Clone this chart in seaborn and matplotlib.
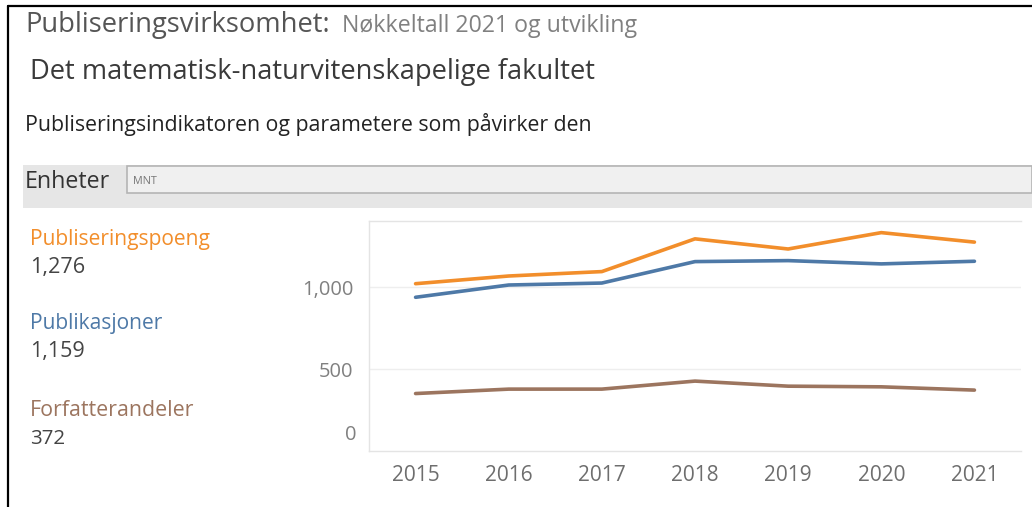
import matplotlib
matplotlib.use("Agg")
import matplotlib.pyplot as plt
from matplotlib.patches import Rectangle
import seaborn as sns
import pandas as pd

years = ["2015", "2016", "2017", "2018", "2019", "2020", "2021"]
poeng = [1022, 1069, 1096, 1296, 1234, 1334, 1276]
publikasjoner = [939, 1014, 1026, 1157, 1163, 1143, 1159]
forfatterandeler = [351, 378, 378, 427, 396, 392, 372]

series_names = ["Publiseringspoeng", "Publikasjoner", "Forfatterandeler"]
latest = ["1,276", "1,159", "372"]
colors = ["#f28e2b", "#4e79a7", "#9c755f"]
yticks = [0, 500, 1000]

df = pd.DataFrame({
    "year": years * 3,
    "value": poeng + publikasjoner + forfatterandeler,
    "serie": sum([[n] * len(years) for n in series_names], []),
})

sns.set_style("white")
plt.rcParams["font.family"] = ["Open Sans", "DejaVu Sans"]

W, H = 1032, 507
fig = plt.figure(figsize=(W / 100, H / 100), dpi=100)
renderer = fig.canvas.get_renderer()


def fx(x):
    return x / W


def fy(y):
    return 1 - y / H


def fit_text(x, y, s, width, color, **kw):
    # put text at pixel x,y and scale the font so it is `width` pixels wide
    t = fig.text(fx(x), fy(y), s, fontsize=10, color=color, va="center", **kw)
    w = t.get_window_extent(renderer).width
    t.set_fontsize(10 * width / w)
    return t


# frame of the dashboard
fig.add_artist(plt.Line2D([fx(8), fx(8)], [0, fy(6)], color="black", lw=1.6))
fig.add_artist(plt.Line2D([fx(8), 1], [fy(6), fy(6)], color="black", lw=1.6))

# header texts
fit_text(25, 25, "Publiseringsvirksomhet:", 305, "#555555")
fit_text(342, 26, "Nøkkeltall 2021 og utvikling", 295, "#808080")
fit_text(30, 72, "Det matematisk-naturvitenskapelige fakultet", 565, "#3a3a3a")
fit_text(25, 125, "Publiseringsindikatoren og parametere som påvirker den", 567, "#222222")

# filter band
fig.add_artist(Rectangle((fx(23), fy(208)), 1 - fx(23), fy(165) - fy(208), color="#e6e6e6", lw=0))
fig.add_artist(Rectangle((fx(127), fy(193)), 1 - fx(127), fy(166) - fy(193), facecolor="#f0f0f0",
                         edgecolor="#b4b4b4", lw=1.2))
fit_text(25, 182, "Enheter", 85, "#333333")
fit_text(133, 181, "MNT", 24, "#777777")

# left legend-like labels
label_w = [181, 133, 164]
value_w = [55, 55, 35]
for i, (name, val, c) in enumerate(zip(series_names, latest, colors)):
    y0 = [240, 323, 411][i]
    fit_text(30, y0, name, label_w[i], c)
    fit_text(30, y0 + 28, val, value_w[i], "#444444")

# chart
ax = fig.add_axes([fx(369), fy(451), fx(1021) - fx(369), fy(221) - fy(451)])
sns.lineplot(data=df, x="year", y="value", hue="serie", palette=colors,
             hue_order=series_names, linewidth=2.6, legend=False, ax=ax)
ax.set_xlim(-0.5, len(years) - 0.5)
ax.set_ylim(0, 1405)
ax.set_xlabel("")
ax.set_ylabel("")
ax.set_yticks(yticks[1:])
ax.set_yticklabels(["{:,}".format(v) for v in yticks[1:]])
ax.annotate("0", xy=(0, 0), xycoords=("axes fraction", "data"), xytext=(-12, 16),
            textcoords="offset pixels", ha="right", va="center", fontsize=14.5, color="#808080")
ax.set_xticks(range(len(years)))
ax.set_xticks([i + 0.5 for i in range(-1, len(years))], minor=True)
ax.tick_params(axis="x", which="major", length=0, pad=10, labelsize=15, labelcolor="#6e6e6e")
ax.tick_params(axis="x", which="minor", length=6, color="#e4e4e4", width=1)
ax.tick_params(axis="y", length=4, color="#e8e8e8", pad=7, labelsize=14.5, labelcolor="#808080")
ax.grid(axis="y", color="#eeeeee", lw=1)
for side in ["left", "top", "bottom"]:
    ax.spines[side].set_color("#e4e4e4")
    ax.spines[side].set_linewidth(1)
ax.spines["right"].set_visible(False)

fig.savefig("out.png", dpi=100)
